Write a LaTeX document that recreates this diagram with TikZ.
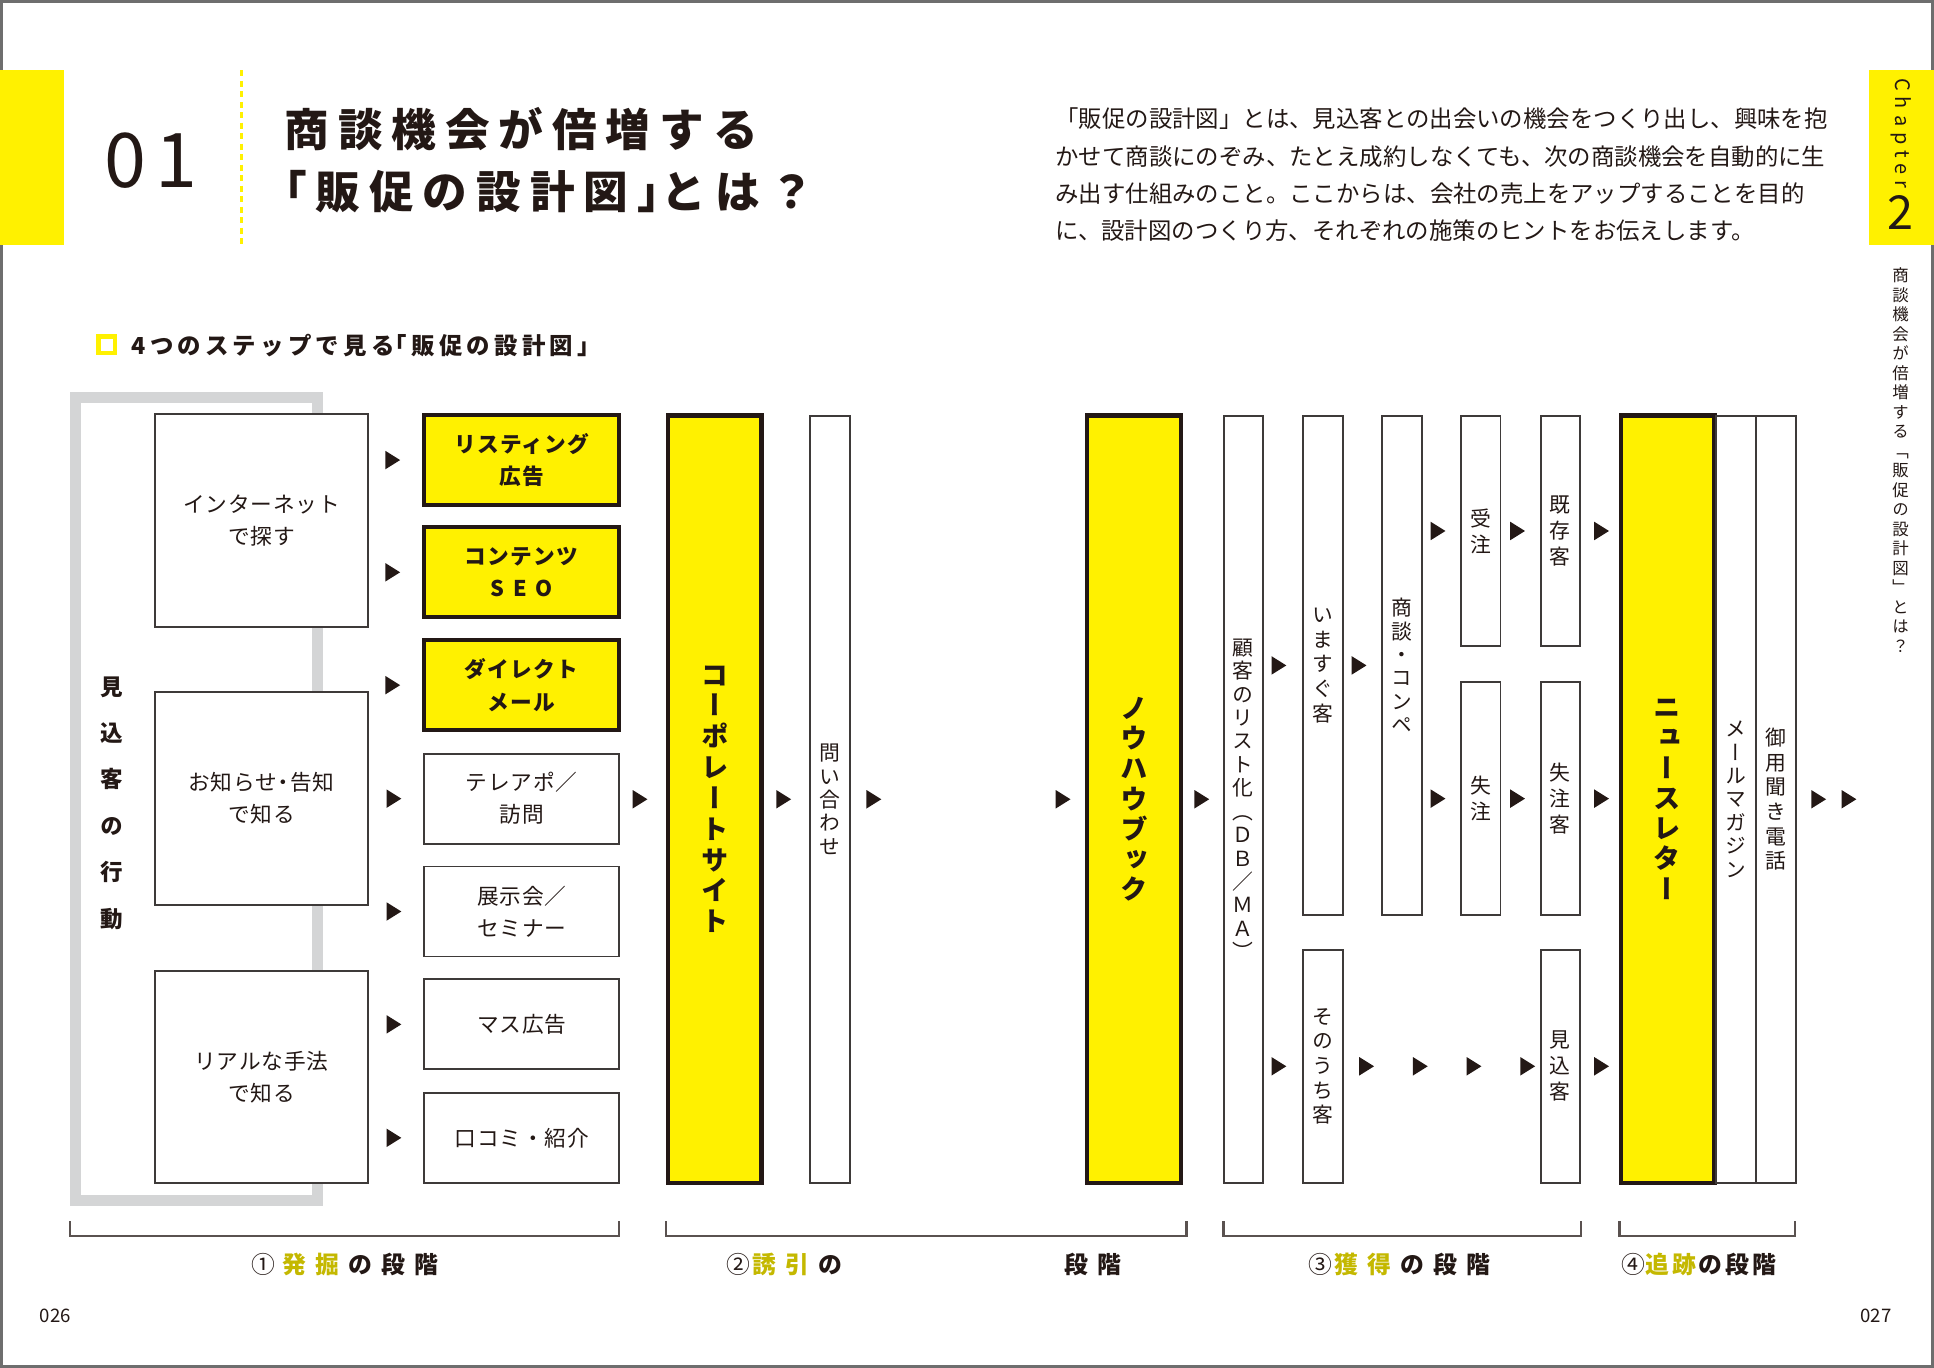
\documentclass[tikz,border=0pt]{standalone}
\usepackage{fontspec}
\setmainfont{Noto Sans CJK JP}
\newfontfamily\tatefont[RawFeature=+vert]{Noto Sans CJK JP}
\usepackage{tikz}
\usetikzlibrary{positioning,shapes.geometric}
\usepackage{xcolor}
\definecolor{giallo}{HTML}{FFF100}
\definecolor{oliva}{HTML}{C4B800}
\definecolor{grigio}{HTML}{D4D5D6}
\definecolor{inchiostro}{HTML}{231815}
\definecolor{linea}{HTML}{3E3A39}
\definecolor{bordo}{HTML}{6E6E6E}
\makeatletter
\newcommand\tate[2]{\vbox{\baselineskip=#1\lineskiplimit=-\maxdimen\@tfor\tc:=#2\do{\hbox to 1.2em{\hss\tc\hss}}}}
\makeatother

\begin{document}
\begin{tikzpicture}[text=inchiostro,
  riq/.style={draw=linea, line width=0.45pt, fill=white, inner sep=0pt, align=center, font=\fontsize{5pt}{7.4pt}\selectfont\addfontfeature{LetterSpace=4}},
  riqg/.style={riq, draw=inchiostro, line width=1pt, fill=giallo, font=\bfseries\fontsize{5pt}{7.4pt}\selectfont\addfontfeature{LetterSpace=6}},
  medio/.style={minimum width=1.58cm, minimum height=0.73cm},
  col/.style={draw=linea, line width=0.45pt, fill=white, inner sep=0pt, minimum width=0.32cm, font=\tatefont\fontsize{4.8pt}{5pt}\selectfont},
  colg/.style={col, draw=inchiostro, line width=1pt, fill=giallo, minimum width=0.76cm, font=\tatefont\bfseries\fontsize{6.3pt}{7pt}\selectfont},
  tri/.style={isosceles triangle, isosceles triangle stretches, fill=inchiostro, inner sep=0pt, minimum width=0.15cm, minimum height=0.12cm},
  staffa/.style={draw=inchiostro!75, line width=0.5pt},
  tappa/.style={anchor=west, inner sep=0pt, font=\bfseries\fontsize{5.5pt}{6pt}\selectfont\addfontfeature{LetterSpace=38}}]
  \useasboundingbox (0,0) rectangle (15.68,-11.09);
  \draw[bordo, line width=0.7pt] (0.0125,-0.0125) rectangle (15.6675,-11.0775);
  % testata
  \fill[giallo] (0,-0.57) rectangle (0.52,-1.99);
  \node[font=\fontsize{17.4pt}{18pt}\selectfont\addfontfeature{LetterSpace=12}] (num) at (1.22,-1.30) {01};
  \draw[giallo, line width=0.6pt, dash pattern=on 0.05cm off 0.035cm] (1.96,-0.57) -- (1.96,-1.99);
  \node[anchor=west, align=left, inner sep=0pt, font=\bfseries\fontsize{10.3pt}{14.2pt}\selectfont\addfontfeature{LetterSpace=20}] (titolo) at (2.30,-1.30) {商談機会が倍増する\\\hspace*{-0.5em}「販促の設計図」\hspace{-0.45em}とは？};
  \node[anchor=north west, align=left, inner sep=0pt, font=\fontsize{5.4pt}{8.6pt}\selectfont] (testo) at (8.55,-0.87)
    {「販促の設計図」とは、見込客との出会いの機会をつくり出し、興味を抱\\
     かせて商談にのぞみ、たとえ成約しなくても、次の商談機会を自動的に生\\
     み出す仕組みのこと。ここからは、会社の売上をアップすることを目的\\
     に、設計図のつくり方、それぞれの施策のヒントをお伝えします。};
  % linguetta
  \fill[giallo] (15.15,-0.57) rectangle (15.68,-1.99);
  \node[rotate=-90, font=\fontsize{4.6pt}{5pt}\selectfont\addfontfeature{LetterSpace=30}] (chap) at (15.41,-1.08) {Chapter};
  \node[font=\fontsize{10.8pt}{11pt}\selectfont] (cap) at (15.41,-1.72) {2};
  \node[inner sep=0pt, font=\tatefont\fontsize{3.8pt}{4pt}\selectfont] (margine) at (15.41,-3.73) {\tate{0.158cm}{商談機会が倍増する「販促の設計図」とは？}};
  % titoletto
  \draw[giallo, line width=1pt] (0.7975,-2.7275) rectangle (0.9325,-2.8625);
  \node[anchor=west, inner sep=0pt, font=\bfseries\fontsize{5.4pt}{6pt}\selectfont\addfontfeature{LetterSpace=18}] (sez) at (1.06,-2.80) {4つのステップで見る\hspace{-0.45em}「販促の設計図」};
  % comportamento
  \draw[grigio, line width=2.6pt] (0.615,-3.225) rectangle (2.575,-9.735);
  \node[inner sep=0pt, font=\tatefont\bfseries\fontsize{5.2pt}{6pt}\selectfont] (azione) at (0.91,-6.51) {\tate{0.376cm}{見込客の行動}};
  \node[riq, minimum width=1.72cm, minimum height=1.72cm] (internet) at (2.12,-4.22) {インターネット\\で探す};
  \node[riq, minimum width=1.72cm, minimum height=1.73cm] (oshirase) at (2.12,-6.475) {お知らせ\hspace{-0.2em}・\hspace{-0.2em}告知\\で知る};
  \node[riq, minimum width=1.72cm, minimum height=1.72cm] (real) at (2.12,-8.73) {リアルな手法\\で知る};
  % strumenti
  \node[riqg, medio] (listing) at (4.23,-3.73) {リスティング\\広告};
  \node[riqg, medio] (seo) at (4.23,-4.64) {コンテンツ\\{\addfontfeature{LetterSpace=40}SEO}};
  \node[riqg, medio] (dm) at (4.23,-5.555) {ダイレクト\\メール};
  \node[riq, medio] (teleapo) at (4.23,-6.475) {テレアポ／\\訪問};
  \node[riq, medio] (tenji) at (4.23,-7.39) {展示会／\\セミナー};
  \node[riq, medio] (masu) at (4.23,-8.305) {マス広告};
  \node[riq, medio] (kuchikomi) at (4.23,-9.225) {口コミ・紹介};
  \node[tri, left=0.16cm of listing] (f1) {};
  \node[tri, left=0.16cm of seo] (f2) {};
  \node[tri, left=0.16cm of dm] (f3) {};
  \node[tri, left=0.16cm of teleapo] (f4) {};
  \node[tri, left=0.16cm of tenji] (f5) {};
  \node[tri, left=0.16cm of masu] (f6) {};
  \node[tri, left=0.16cm of kuchikomi] (f7) {};
  % colonne
  \node[colg, minimum height=6.22cm] (corp) at (5.795,-6.48) {\tate{0.25cm}{コーポレートサイト}};
  \node[col, minimum height=6.22cm] (toiawase) at (6.73,-6.48) {\tate{0.19cm}{問い合わせ}};
  \node[colg, minimum height=6.22cm] (knowhow) at (9.195,-6.48) {\tate{0.245cm}{ノウハウブック}};
  \node[col, minimum height=6.22cm] (lista) at (10.08,-6.48) {\tate{0.19cm}{顧客のリスト化（ＤＢ／ＭＡ）}};
  \node[col, minimum height=4.05cm] (imasugu) at (10.725,-5.395) {\tate{0.2cm}{いますぐ客}};
  \node[col, minimum height=4.05cm] (shodan) at (11.365,-5.395) {\tate{0.19cm}{商談・コンペ}};
  \node[col, minimum height=1.87cm] (juchu) at (12.005,-4.305) {\tate{0.21cm}{受注}};
  \node[col, minimum height=1.89cm] (shitchu) at (12.005,-6.475) {\tate{0.21cm}{失注}};
  \node[col, minimum height=1.87cm] (kizon) at (12.65,-4.305) {\tate{0.21cm}{既存客}};
  \node[col, minimum height=1.89cm] (shitchukyaku) at (12.65,-6.475) {\tate{0.21cm}{失注客}};
  \node[col, minimum height=1.89cm] (mikomi) at (12.65,-8.645) {\tate{0.21cm}{見込客}};
  \node[col, minimum height=1.89cm] (sonouchi) at (10.725,-8.645) {\tate{0.2cm}{そのうち客}};
  \node[colg, minimum height=6.22cm] (news) at (13.52,-6.48) {\tate{0.245cm}{ニュースレター}};
  \node[col, minimum height=6.22cm, minimum width=0.33cm] (mailmag) at (14.075,-6.48) {\tate{0.19cm}{メールマガジン}};
  \node[col, minimum height=6.22cm] (goyo) at (14.40,-6.48) {\tate{0.2cm}{御用聞き電話}};
  % frecce
  \node[tri, left=0.13cm of corp] (f8) {};
  \node[tri, left=0.13cm of toiawase] (f9) {};
  \node[tri, right=0.12cm of toiawase] (f10) {};
  \node[tri, left=0.10cm of knowhow] (f11) {};
  \node[tri, left=0.09cm of lista] (f12) {};
  \node[tri, left=0.11cm of imasugu] (f13) {};
  \node[tri, left=0.11cm of sonouchi] (f14) {};
  \node[tri, left=0.10cm of shodan] (f15) {};
  \node[tri, left=0.10cm of juchu] (f16) {};
  \node[tri, left=0.10cm of shitchu] (f17) {};
  \node[tri, left=0.10cm of kizon] (f18) {};
  \node[tri, left=0.10cm of shitchukyaku] (f19) {};
  \node[tri, right=0.10cm of kizon] (f20) {};
  \node[tri, right=0.10cm of shitchukyaku] (f21) {};
  \node[tri, right=0.10cm of mikomi] (f22) {};
  \node[tri, right=0.12cm of sonouchi] (f23) {};
  \node[tri, right=0.29cm of f23] (f24) {};
  \node[tri, right=0.29cm of f24] (f25) {};
  \node[tri, right=0.29cm of f25] (f26) {};
  \node[tri, right=0.11cm of goyo] (f27) {};
  \node[tri, right=0.10cm of f27] (f28) {};
  % fasi
  \draw[staffa] (0.57,-9.90) -- (0.57,-10.02) -- (5.02,-10.02) -- (5.02,-9.90);
  \draw[staffa] (5.40,-9.90) -- (5.40,-10.02) -- (9.62,-10.02) -- (9.62,-9.90);
  \draw[staffa] (9.92,-9.90) -- (9.92,-10.02) -- (12.82,-10.02) -- (12.82,-9.90);
  \draw[staffa] (13.13,-9.90) -- (13.13,-10.02) -- (14.55,-10.02) -- (14.55,-9.90);
  \node[tappa] (fase1) at (2.03,-10.25) {{\mdseries ①}\hspace{0.06cm}\textcolor{oliva}{発掘}\hspace{2.1pt}の段階};
  \node[tappa] (fase2) at (5.88,-10.25) {{\mdseries ②}\hspace{0.02cm}\textcolor{oliva}{誘引}\hspace{2.1pt}の\hspace{1.8cm}段階};
  \node[tappa] (fase3) at (10.60,-10.25) {{\mdseries ③}\hspace{0.02cm}\textcolor{oliva}{獲得}\hspace{2.1pt}の段階};
  \node[tappa, font=\bfseries\fontsize{5.5pt}{6pt}\selectfont\addfontfeature{LetterSpace=12}] (fase4) at (13.14,-10.25) {{\mdseries ④}\textcolor{oliva}{追跡}\hspace{0.66pt}の段階};
  % pagine
  \node[font=\fontsize{4.3pt}{5pt}\selectfont] (p26) at (0.45,-10.67) {026};
  \node[font=\fontsize{4.3pt}{5pt}\selectfont] (p27) at (15.21,-10.67) {027};
\end{tikzpicture}
\end{document}
